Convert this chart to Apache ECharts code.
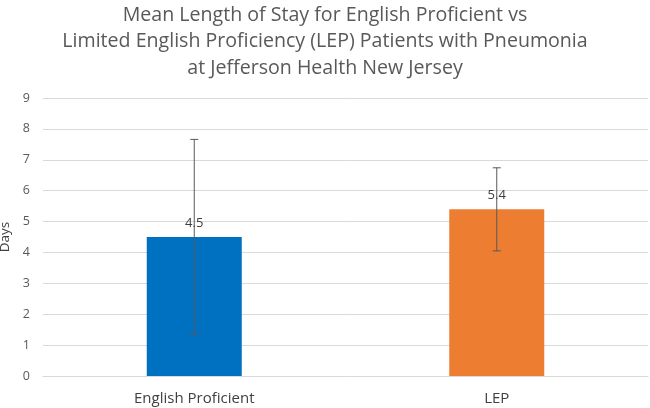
<!DOCTYPE html>
<html>
<head>
<meta charset="utf-8">
<script src="https://cdn.jsdelivr.net/npm/echarts@6/dist/echarts.min.js"></script>
<style>
  html, body { margin: 0; padding: 0; background: #fff; }
  #main { width: 650px; height: 408px; }
</style>
</head>
<body>
<div id="main"></div>
<script>
var categories = ['English Proficient', 'LEP'];
var meanDays = [4.5, 5.4];
var errLow = [1.35, 4.05];
var errHigh = [7.66, 6.74];
var barColors = ['#0070C0', '#ED7D31'];

var chart = echarts.init(document.getElementById('main'));

var errData = categories.map(function (c, i) { return [i, errLow[i], errHigh[i]]; });

var option = {
  animation: false,
  title: {
    text: 'Mean Length of Stay for English Proficient vs\nLimited English Proficiency (LEP) Patients with Pneumonia\nat Jefferson Health New Jersey',
    left: 'center',
    top: -3,
    textStyle: {
      fontFamily: 'Open Sans',
      fontSize: 19.6,
      fontWeight: 'normal',
      color: '#595959',
      lineHeight: 26.5
    }
  },
  grid: { left: 43, right: 2, top: 98, bottom: 32, outerBoundsMode: 'none' },
  xAxis: {
    type: 'category',
    data: categories,
    axisLine: { show: true, lineStyle: { color: '#d9d9d9' } },
    axisTick: { show: false },
    axisLabel: { color: '#404040', fontSize: 15, fontFamily: 'Open Sans', margin: 15 }
  },
  yAxis: {
    type: 'value',
    min: 0,
    max: 9,
    interval: 1,
    name: 'Days',
    nameLocation: 'middle',
    nameGap: 31,
    nameTextStyle: { color: '#404040', fontSize: 13.5, fontFamily: 'Open Sans' },
    axisLine: { show: false },
    axisTick: { show: false },
    axisLabel: { color: '#595959', fontSize: 12.5, fontFamily: 'Open Sans', margin: 13 },
    splitLine: { lineStyle: { color: '#d9d9d9' } }
  },
  series: [
    {
      type: 'bar',
      barWidth: 95,
      data: meanDays.map(function (v, i) {
        return { value: v, itemStyle: { color: barColors[i] } };
      }),
      label: {
        show: true,
        position: 'top',
        distance: 7,
        color: '#404040',
        fontSize: 13,
        fontFamily: 'Open Sans'
      }
    },
    {
      type: 'custom',
      data: errData,
      z: 10,
      renderItem: function (params, api) {
        var x = api.value(0);
        var lo = api.coord([x, api.value(1)]);
        var hi = api.coord([x, api.value(2)]);
        var cap = 4;
        var style = { stroke: '#595959', lineWidth: 1 };
        return {
          type: 'group',
          children: [
            { type: 'line', shape: { x1: hi[0], y1: hi[1], x2: lo[0], y2: lo[1] }, style: style },
            { type: 'line', shape: { x1: hi[0] - cap, y1: hi[1], x2: hi[0] + cap, y2: hi[1] }, style: style },
            { type: 'line', shape: { x1: lo[0] - cap, y1: lo[1], x2: lo[0] + cap, y2: lo[1] }, style: style }
          ]
        };
      }
    }
  ]
};

chart.setOption(option);
</script>
</body>
</html>
